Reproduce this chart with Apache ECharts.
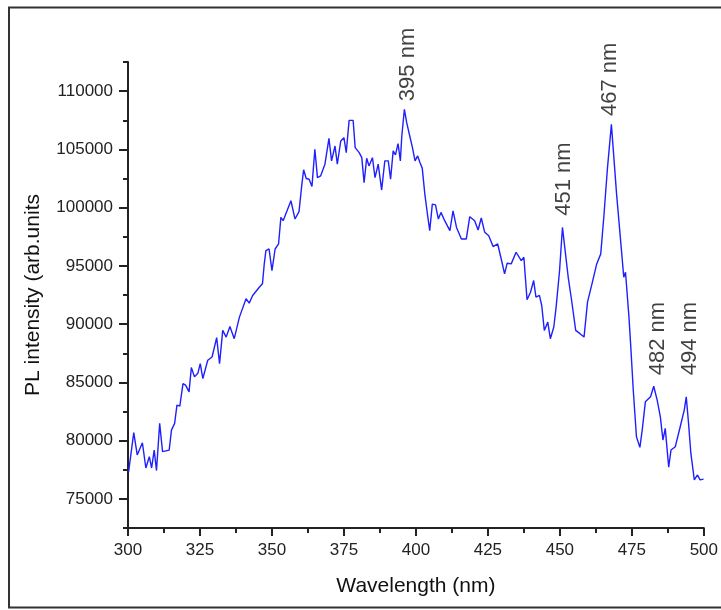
<!DOCTYPE html>
<html>
<head>
<meta charset="utf-8">
<script src="https://cdn.jsdelivr.net/npm/echarts@6/dist/echarts.min.js"></script>
<style>
html, body { margin: 0; padding: 0; background: #fff; }
#chart { width: 721px; height: 610px; }
</style>
</head>
<body>
<div id="chart"></div>
<script>
// wavelength (nm) and PL intensity
const wavelength = [
  300.2, 302.0, 303.2, 305.0, 306.2, 307.4, 308.2, 309.1, 309.9, 311.0,
  312.0, 314.3, 315.1, 316.2, 317.0, 318.0, 319.1, 320.0, 321.2, 322.0,
  323.1, 324.3, 325.1, 326.0, 327.7, 329.2, 330.8, 331.8, 332.9, 334.1,
  335.4, 336.9, 338.7, 341.0, 342.1, 343.3, 345.6, 346.7, 347.3, 347.9,
  349.0, 350.0, 351.1, 352.3, 353.1, 353.9, 354.8, 356.6, 358.0, 359.4,
  360.3, 361.0, 361.9, 362.9, 363.9, 364.9, 365.8, 366.9, 368.4, 369.8,
  370.7, 371.9, 372.7, 373.9, 375.0, 375.8, 376.8, 378.2, 378.9, 380.3,
  381.2, 382.0, 382.9, 383.7, 384.9, 385.8, 386.9, 388.1, 389.2, 390.4,
  391.2, 392.1, 392.9, 393.8, 394.6, 395.1, 396.0, 396.8, 398.0, 398.8,
  399.7, 400.6, 401.4, 402.2, 403.1, 404.0, 404.8, 405.7, 406.8, 407.8,
  408.7, 410.0, 411.8, 412.9, 414.1, 415.8, 417.5, 418.7, 420.4, 421.6,
  422.7, 423.9, 425.3, 426.8, 428.4, 429.9, 430.8, 431.7, 433.1, 434.8,
  436.6, 437.5, 438.6, 439.8, 440.9, 441.7, 442.9, 443.7, 444.6, 445.8,
  446.7, 447.9, 448.7, 449.9, 450.9, 451.7, 452.9, 454.0, 455.5, 457.0,
  458.4, 459.6, 461.3, 462.8, 464.2, 465.3, 466.5, 467.9, 468.5, 469.7,
  471.1, 472.2, 472.8, 474.0, 474.6, 475.5, 476.6, 477.8, 478.6, 479.7,
  481.5, 482.6, 483.8, 484.9, 485.8, 486.6, 487.8, 488.6, 490.1, 491.8,
  493.2, 493.9, 494.7, 495.5, 496.7, 497.8, 498.7, 499.9
]
const intensity = [
  77300, 80680, 78770, 79820, 77650, 78620, 77650, 79190, 77430, 81480,
  79050, 79190, 80900, 81480, 83050, 82960, 84900, 84760, 84180, 86270,
  85470, 85810, 86610, 85330, 86900, 87180, 88840, 86610, 89460, 88890,
  89800, 88750, 90600, 92180, 91800, 92460, 93170, 93460, 95100, 96310,
  96450, 94600, 96450, 96880, 99160, 98880, 99450, 100590, 99020, 99660,
  101800, 103250, 102500, 102440, 101820, 105010, 102580, 102720, 103730, 105950,
  104010, 105290, 103730, 105720, 106000, 104720, 107490, 107490, 105150, 104720,
  104290, 102150, 104240, 103580, 104290, 102580, 103730, 101510, 104010, 104010,
  102440, 104870, 104520, 105490, 104010, 106150, 108430, 107290, 106000, 105150,
  104010, 104440, 103870, 103390, 101160, 99450, 98020, 100300, 100240, 99020,
  99590, 98880, 98020, 99730, 98300, 97310, 97310, 99220, 98880, 98080,
  99110, 97880, 97590, 96660, 96880, 95310, 94320, 95230, 95170, 96170,
  95450, 95740, 92090, 92740, 93740, 92320, 92460, 91600, 89460, 90170,
  88750, 89750, 91460, 94600, 98300, 96590, 94020, 92180, 89460, 89180,
  88890, 91890, 93600, 95170, 96030, 99300, 103300, 107150, 105150, 101160,
  97170, 94020, 94450, 90600, 88200, 84330, 80330, 79420, 80900, 83330,
  83760, 84670, 83470, 82040, 80050, 81050, 77720, 79190, 79480, 81190,
  82620, 83760, 81480, 78900, 76630, 77050, 76630, 76690
]

// peak annotations: text, wavelength and intensity where the text starts
const peakText = ['395 nm', '451 nm', '467 nm', '482 nm', '494 nm']
const peakX = [397.2, 451.5, 467.4, 484.1, 495.2]
const peakY = [109140, 99300, 107860, 85610, 85610]

// tick values
const yMajorTicks = [75000, 80000, 85000, 90000, 95000, 100000, 105000, 110000]
const yMinorTicks = [72500, 77500, 82500, 87500, 92500, 97500, 102500, 107500, 112500]

const font = 'Arial, "Liberation Sans", sans-serif'
const chart = echarts.init(document.getElementById('chart'))

chart.setOption({
  animation: false,
  backgroundColor: '#fff',
  graphic: [
    {
      // outer frame, open on the right like the source image
      type: 'polyline',
      shape: { points: [[800, 7.5], [9, 7.5], [9, 607.5], [800, 607.5]] },
      style: { fill: null, stroke: '#333', lineWidth: 2 },
      silent: true
    }
  ],
  grid: { left: 128, right: 14, top: 62, bottom: 82 },
  xAxis: {
    type: 'value',
    min: 300,
    max: 500,
    interval: 25,
    name: 'Wavelength (nm)',
    nameLocation: 'middle',
    nameGap: 48,
    nameTextStyle: { fontFamily: font, fontSize: 21, color: '#111' },
    axisLine: { show: true, onZero: false, lineStyle: { color: '#222', width: 2 } },
    axisTick: { show: true, length: 8, lineStyle: { color: '#222', width: 2 } },
    minorTick: { show: true, splitNumber: 2, length: 5, lineStyle: { color: '#222', width: 2 } },
    axisLabel: { fontFamily: font, fontSize: 17, color: '#222', margin: 14 },
    splitLine: { show: false }
  },
  yAxis: [
    {
      type: 'value',
      min: 72500,
      max: 112500,
      name: 'PL intensity (arb.units',
      nameLocation: 'middle',
      nameGap: 84,
      nameTextStyle: { fontFamily: font, fontSize: 21, color: '#111' },
      axisLine: { show: true, onZero: false, lineStyle: { color: '#222', width: 2 } },
      axisTick: { show: true, length: 9, customValues: yMajorTicks, lineStyle: { color: '#222', width: 2 } },
      axisLabel: {
        fontFamily: font,
        fontSize: 17,
        color: '#222',
        margin: 15,
        customValues: yMajorTicks,
        formatter: v => String(v)
      },
      splitLine: { show: false }
    },
    {
      type: 'value',
      min: 72500,
      max: 112500,
      position: 'left',
      axisLine: { show: false },
      axisTick: { show: true, length: 5, customValues: yMinorTicks, lineStyle: { color: '#222', width: 2 } },
      axisLabel: { show: false },
      splitLine: { show: false }
    }
  ],
  series: [
    {
      type: 'line',
      data: wavelength.map((w, i) => [w, intensity[i]]),
      showSymbol: false,
      symbol: 'none',
      lineStyle: { color: '#1f1fff', width: 1.4 },
      silent: true
    },
    {
      type: 'scatter',
      data: peakText.map((t, i) => [peakX[i], peakY[i], t]),
      symbolSize: 0,
      silent: true,
      label: {
        show: true,
        position: 'inside',
        rotate: 90,
        align: 'left',
        verticalAlign: 'middle',
        formatter: p => p.data[2],
        fontFamily: font,
        fontSize: 22,
        color: '#111'
      }
    }
  ]
})
</script>
</body>
</html>
